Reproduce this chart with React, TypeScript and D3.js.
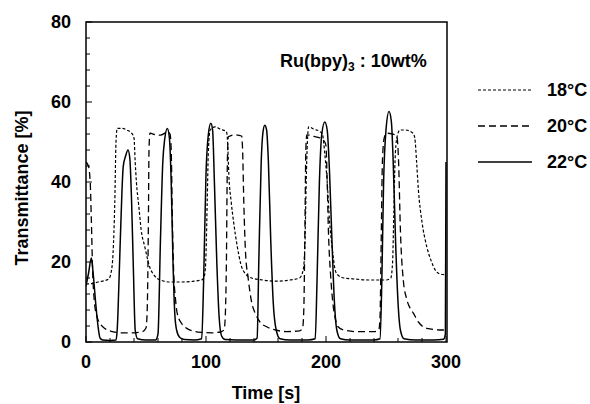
import * as d3 from "d3";

// [time (s), transmittance (%)]
const curve18: [number, number][] = [
  [0, 14.5], [5, 14.6], [10, 15], [15, 15.3], [19, 15.8], [21, 17.5], [22.5, 22], [24, 35], [25, 50], [26, 53.4],
  [30, 53.4], [34, 53], [38, 52.2], [40, 51], [41, 45], [42, 40], [44, 34], [46, 28], [49, 23.8], [53, 18.8],
  [57, 16.6], [62, 15.5], [70, 15], [80, 15], [90, 15.2], [97, 15.6], [99, 17], [100, 22], [101, 35], [102, 48],
  [103.5, 53], [107.5, 53.8], [112, 53.2], [117, 52.6], [118, 50], [119, 42], [121, 35], [123, 30], [126, 24],
  [129, 19.5], [133, 17], [138, 16], [145, 15.6], [160, 15.2], [170, 15.5], [178, 16], [181, 18], [182.5, 25],
  [183.5, 40], [184.5, 50], [185.5, 53.8], [190, 53.2], [195, 52.6], [197, 52], [199, 47], [201, 40], [203, 30],
  [205, 24], [207, 19], [209, 17], [215, 16], [222, 15.8], [235, 15.5], [250, 15.5], [254, 16], [255.5, 20],
  [256.5, 32], [257.5, 45], [259, 51], [261.7, 53], [266, 53], [272.5, 52.2], [274, 51], [275.5, 45], [277, 38],
  [280, 30], [284, 23.8], [288, 20], [291, 18], [295, 17], [300, 16.8],
];

const curve20: [number, number][] = [
  [0, 45], [2, 44], [3.5, 40], [4.5, 30], [5.5, 18], [7, 10], [9, 6.5], [12, 4.5], [16, 3.3], [22, 2.6], [30, 2.3],
  [40, 2.3], [47, 2.6], [50, 3.5], [51, 8], [52, 30], [52.5, 48], [53.3, 52.2], [58, 51.8], [62, 51.7], [68, 52.5],
  [70, 52], [71, 48], [72, 30], [73, 18], [74.5, 11], [76, 7.2], [80, 4.5], [84, 3.4], [90, 2.7], [97.5, 2.4],
  [105, 2.3], [112, 2.5], [115, 3], [116, 6], [117, 20], [117.8, 45], [118.6, 51.3], [124, 51.8], [129.7, 51.5],
  [130.5, 48], [131.5, 35], [133, 22], [135, 16.3], [138, 10], [141, 7.2], [145, 5], [150.6, 3.8], [158, 3],
  [167, 2.6], [178, 2.8], [180.5, 3.5], [181.5, 8], [182.5, 30], [183.2, 48], [184, 51.8], [190, 51.4], [195, 51],
  [199, 50], [200, 49], [201, 40], [202, 28], [204, 16], [206, 9], [208, 5.5], [210, 3.8], [215, 3], [225, 2.6],
  [240, 2.6], [244, 3], [245, 6], [246, 25], [247, 45], [248.5, 51], [250.5, 52.2], [255, 52], [259, 51.5],
  [260.5, 45], [262, 28], [264.4, 15.5], [267, 11], [270, 8.5], [272.8, 7.2], [277, 5], [281, 3.8], [288, 3.2],
  [295, 3], [300, 3],
];

const curve22: [number, number][] = [
  [0, 14], [2, 17], [4.5, 21], [6, 17], [8, 10], [10, 4], [11.7, 1], [14, 0.5], [20, 0.4], [25, 0.5], [26, 3],
  [28, 20], [30, 38], [31, 43.8], [33, 46.5], [35, 48], [36.5, 46], [38, 35], [39.5, 18], [41, 3], [43, 0.8],
  [50, 0.5], [58, 0.5], [60, 2], [62, 25], [64, 45], [65.5, 50.5], [67.8, 53.4], [69.5, 51], [71, 40], [72.5, 20],
  [74, 7], [75.5, 3], [78, 1.2], [82, 0.6], [90, 0.5], [96.4, 0.8], [98, 15], [100, 42], [102, 52], [104, 54.7],
  [105.5, 53], [107, 40], [109, 20], [111, 6], [113, 1.5], [116, 0.6], [125, 0.5], [140, 0.5], [142.6, 1],
  [144, 20], [146, 45], [147.5, 52.5], [149, 54.2], [150.5, 53], [152, 45], [154, 25], [156, 10], [158.5, 3],
  [161.7, 0.8], [170, 0.5], [185, 0.5], [191, 0.8], [192.5, 15], [194.5, 40], [196.5, 52], [199, 55], [201, 53],
  [203, 42], [205, 25], [207, 10], [209, 3], [212, 0.8], [220, 0.5], [240, 0.5], [245, 0.8], [246.5, 15],
  [248, 40], [250, 53], [252.5, 57.6], [254.5, 55], [256, 45], [258, 25], [260, 10], [262, 3], [265, 0.8],
  [275, 0.5], [290, 0.5], [298, 0.7], [299.5, 2], [300, 45],
];

const legendLabels = ["18°C", "20°C", "22°C"];
const xTicks = [0, 100, 200, 300];
const yTicks = [0, 20, 40, 60, 80];

const FONT = "'Liberation Sans', Arial, Helvetica, sans-serif";

export default function App() {
  const width = 590;
  const height = 404;
  const left = 86, right = 446, top = 22, bottom = 342;

  const x = d3.scaleLinear().domain([0, 300]).range([left, right]);
  const y = d3.scaleLinear().domain([0, 80]).range([bottom, top]);

  const line = d3
    .line<[number, number]>()
    .x((d) => x(d[0]))
    .y((d) => y(d[1]))
    .curve(d3.curveMonotoneX);

  const styles = [
    { data: curve18, dash: "3,2", w: 1.2 },
    { data: curve20, dash: "7,4", w: 1.3 },
    { data: curve22, dash: "none", w: 1.5 },
  ];

  const xMinor = d3.range(0, 301, 20);
  const yMinor = d3.range(0, 81, 4);

  return (
    <svg width={width} height={height} style={{ position: "absolute", left: 0, top: 0, background: "#fff" }}>
      <defs>
        <clipPath id="plot">
          <rect x={left} y={top - 2} width={right - left + 2} height={bottom - top + 2} />
        </clipPath>
      </defs>

      {/* ticks point inward */}
      {xMinor.map((t) => (
        <line key={"xt" + t} x1={x(t)} x2={x(t)} y1={bottom} y2={bottom - (t % 100 === 0 ? 6 : 4)} stroke="#000" strokeWidth={1} />
      ))}
      {yMinor.map((v) => (
        <line key={"yt" + v} x1={left} x2={left + (v % 20 === 0 ? 6 : 4)} y1={y(v)} y2={y(v)} stroke="#000" strokeWidth={1} />
      ))}

      <g clipPath="url(#plot)">
        {styles.map((s, i) => (
          <path
            key={i}
            d={line(s.data) ?? ""}
            fill="none"
            stroke="#000"
            strokeWidth={s.w}
            strokeDasharray={s.dash}
          />
        ))}
      </g>

      <rect x={left} y={top} width={right - left + 1} height={bottom - top} fill="none" stroke="#000" strokeWidth={1.5} />

      {xTicks.map((t) => (
        <text key={"xl" + t} x={x(t)} y={368} textAnchor="middle" fontFamily={FONT} fontWeight="bold" fontSize={18}>
          {t}
        </text>
      ))}
      {yTicks.map((v) => (
        <text key={"yl" + v} x={71} y={y(v) + 6} textAnchor="end" fontFamily={FONT} fontWeight="bold" fontSize={18}>
          {v}
        </text>
      ))}

      <text x={(left + right) / 2} y={399} textAnchor="middle" fontFamily={FONT} fontWeight="bold" fontSize={18}>
        Time [s]
      </text>
      <text
        transform={`translate(28, ${(top + bottom) / 2 + 6}) rotate(-90)`}
        textAnchor="middle"
        fontFamily={FONT}
        fontWeight="bold"
        fontSize={18}
      >
        Transmittance [%]
      </text>

      <text x={280} y={67} fontFamily={FONT} fontWeight="bold" fontSize={18}>
        Ru(bpy)
        <tspan fontSize={12} dy={4}>3</tspan>
        <tspan dy={-4}> : 10wt%</tspan>
      </text>

      {legendLabels.map((lab, i) => {
        const ly = [90, 126, 162][i];
        return (
          <g key={lab}>
            <line x1={478} x2={532} y1={ly} y2={ly} stroke="#000" strokeWidth={styles[i].w} strokeDasharray={styles[i].dash} />
            <text x={547} y={ly + 6} fontFamily={FONT} fontWeight="bold" fontSize={18}>
              {lab}
            </text>
          </g>
        );
      })}
    </svg>
  );
}
